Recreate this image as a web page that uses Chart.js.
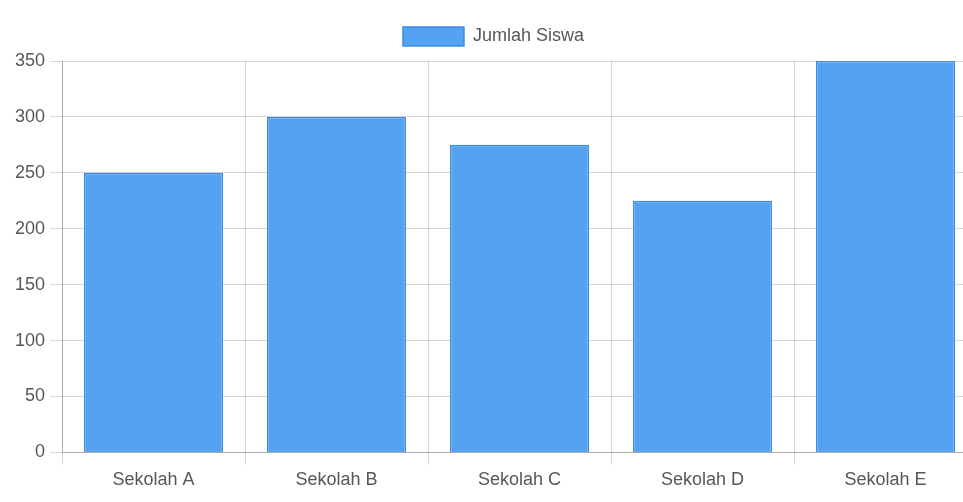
<!DOCTYPE html>
<html>
<head>
<meta charset="utf-8">
<script src="https://cdn.jsdelivr.net/npm/chart.js@4.4.1/dist/chart.umd.min.js"></script>
<style>
  html, body { margin: 0; padding: 0; background: #fff; overflow: hidden; }
  #wrap { position: relative; width: 988px; height: 502px; }
</style>
</head>
<body>
<div id="wrap"><canvas id="chart"></canvas></div>
<script>
const schools = ['Sekolah A', 'Sekolah B', 'Sekolah C', 'Sekolah D', 'Sekolah E'];
const students = [250, 300, 275, 225, 350];
const yTicks = [0, 50, 100, 150, 200, 250, 300, 350];

Chart.defaults.font.family = "'Liberation Sans', Arial, Helvetica, sans-serif";
Chart.defaults.font.size = 18;
Chart.defaults.color = '#575757';

// a bit more room under the legend
const legendGap = {
  id: 'legendGap',
  beforeInit(chart) {
    const fit = chart.legend.fit;
    chart.legend.fit = function () {
      fit.bind(chart.legend)();
      this.height += 5;
    };
  }
};

new Chart(document.getElementById('chart'), {
  type: 'bar',
  data: {
    labels: schools,
    datasets: [{
      label: 'Jumlah Siswa',
      data: students,
      backgroundColor: '#55a1f2',
      borderColor: '#3f8de3',
      borderWidth: 1.5,
      categoryPercentage: 0.8,
      barPercentage: 0.95
    }]
  },
  options: {
    responsive: true,
    maintainAspectRatio: false,
    animation: false,
    layout: { padding: { top: 12, left: 10, right: 11, bottom: 6 } },
    plugins: {
      legend: {
        position: 'top',
        labels: { boxWidth: 61, boxHeight: 19, padding: 15 }
      },
      tooltip: { enabled: false }
    },
    scales: {
      x: {
        grid: { color: 'rgba(0,0,0,0.16)', tickLength: 12 },
        border: { color: 'rgba(0,0,0,0.2)' },
        ticks: { padding: 5 }
      },
      y: {
        min: 0,
        max: 350,
        afterBuildTicks: (scale) => { scale.ticks = yTicks.map(v => ({ value: v })); },
        grid: { color: 'rgba(0,0,0,0.16)', tickLength: 12 },
        border: { color: 'rgba(0,0,0,0.2)' },
        ticks: { padding: 5 }
      }
    }
  },
  plugins: [legendGap]
});
</script>
</body>
</html>
